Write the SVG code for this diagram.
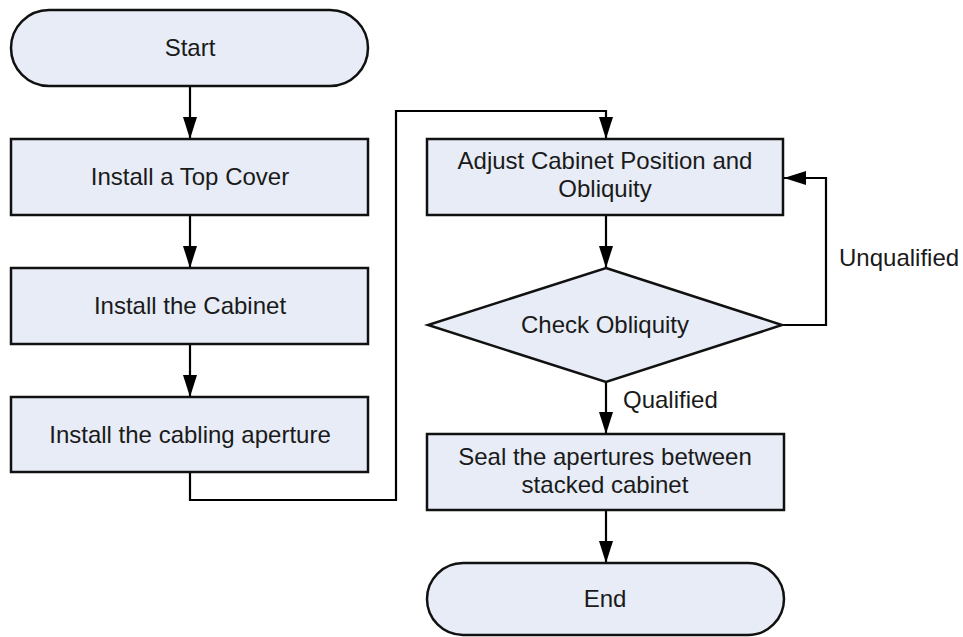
<svg xmlns="http://www.w3.org/2000/svg" width="963" height="637" viewBox="0 0 963 637">
  <defs>
    <!-- solid triangular arrowhead, 22 long x 14 wide -->
    <marker id="arrow" viewBox="0 0 22 14" refX="22" refY="7" markerWidth="22" markerHeight="14" markerUnits="userSpaceOnUse" orient="auto">
      <path d="M0,0 L22,7 L0,14 Z" fill="#000"/>
    </marker>
    <style>
      .shape { fill: #E7ECF6; stroke: #111; stroke-width: 2.5; }
      .label { font-family: "Liberation Sans", Arial, sans-serif; font-size: 24px; fill: #1a1a1a; text-anchor: middle; }
      .edge-label { font-family: "Liberation Sans", Arial, sans-serif; font-size: 24px; fill: #1a1a1a; }
      .edge { fill: none; stroke: #000; stroke-width: 2.2; }
    </style>
  </defs>
  <rect width="963" height="637" fill="#fff"/>

  <g id="connectors">
    <path class="edge" d="M190,86 V139" marker-end="url(#arrow)"/>
    <path class="edge" d="M190,215 V268" marker-end="url(#arrow)"/>
    <path class="edge" d="M190,344 V397" marker-end="url(#arrow)"/>
    <path class="edge" d="M190,472 V500 H396 V111 H606 V139" marker-end="url(#arrow)"/>
    <path class="edge" d="M606,215 V268" marker-end="url(#arrow)"/>
    <path class="edge" d="M782,325 H826 V178 H784" marker-end="url(#arrow)"/>
    <path class="edge" d="M606,382 V434" marker-end="url(#arrow)"/>
    <path class="edge" d="M606,510 V563" marker-end="url(#arrow)"/>
    <text class="edge-label" x="839" y="266">Unqualified</text>
    <text class="edge-label" x="623" y="408">Qualified</text>
  </g>

  <g id="start">
    <rect class="shape" x="11" y="10" width="357" height="76" rx="38" ry="38"/>
    <text class="label" x="190" y="56">Start</text>
  </g>

  <g id="install-top-cover">
    <rect class="shape" x="11" y="139" width="357" height="76"/>
    <text class="label" x="190" y="185">Install a Top Cover</text>
  </g>

  <g id="install-cabinet">
    <rect class="shape" x="11" y="268" width="357" height="76"/>
    <text class="label" x="190" y="314">Install the Cabinet</text>
  </g>

  <g id="install-cabling-aperture">
    <rect class="shape" x="11" y="397" width="357" height="75"/>
    <text class="label" x="190" y="443">Install the cabling aperture</text>
  </g>

  <g id="adjust-position">
    <rect class="shape" x="427" y="139" width="356" height="76"/>
    <text class="label" x="605" y="169">Adjust Cabinet Position and</text>
    <text class="label" x="605" y="197">Obliquity</text>
  </g>

  <g id="check-obliquity">
    <polygon class="shape" points="606,268 782,325 606,382 428,325"/>
    <text class="label" x="605" y="333">Check Obliquity</text>
  </g>

  <g id="seal-apertures">
    <rect class="shape" x="427" y="434" width="357" height="76"/>
    <text class="label" x="605" y="465">Seal the apertures between</text>
    <text class="label" x="605" y="493">stacked cabinet</text>
  </g>

  <g id="end">
    <rect class="shape" x="427" y="563" width="357" height="72" rx="36" ry="36"/>
    <text class="label" x="605" y="607">End</text>
  </g>
</svg>
